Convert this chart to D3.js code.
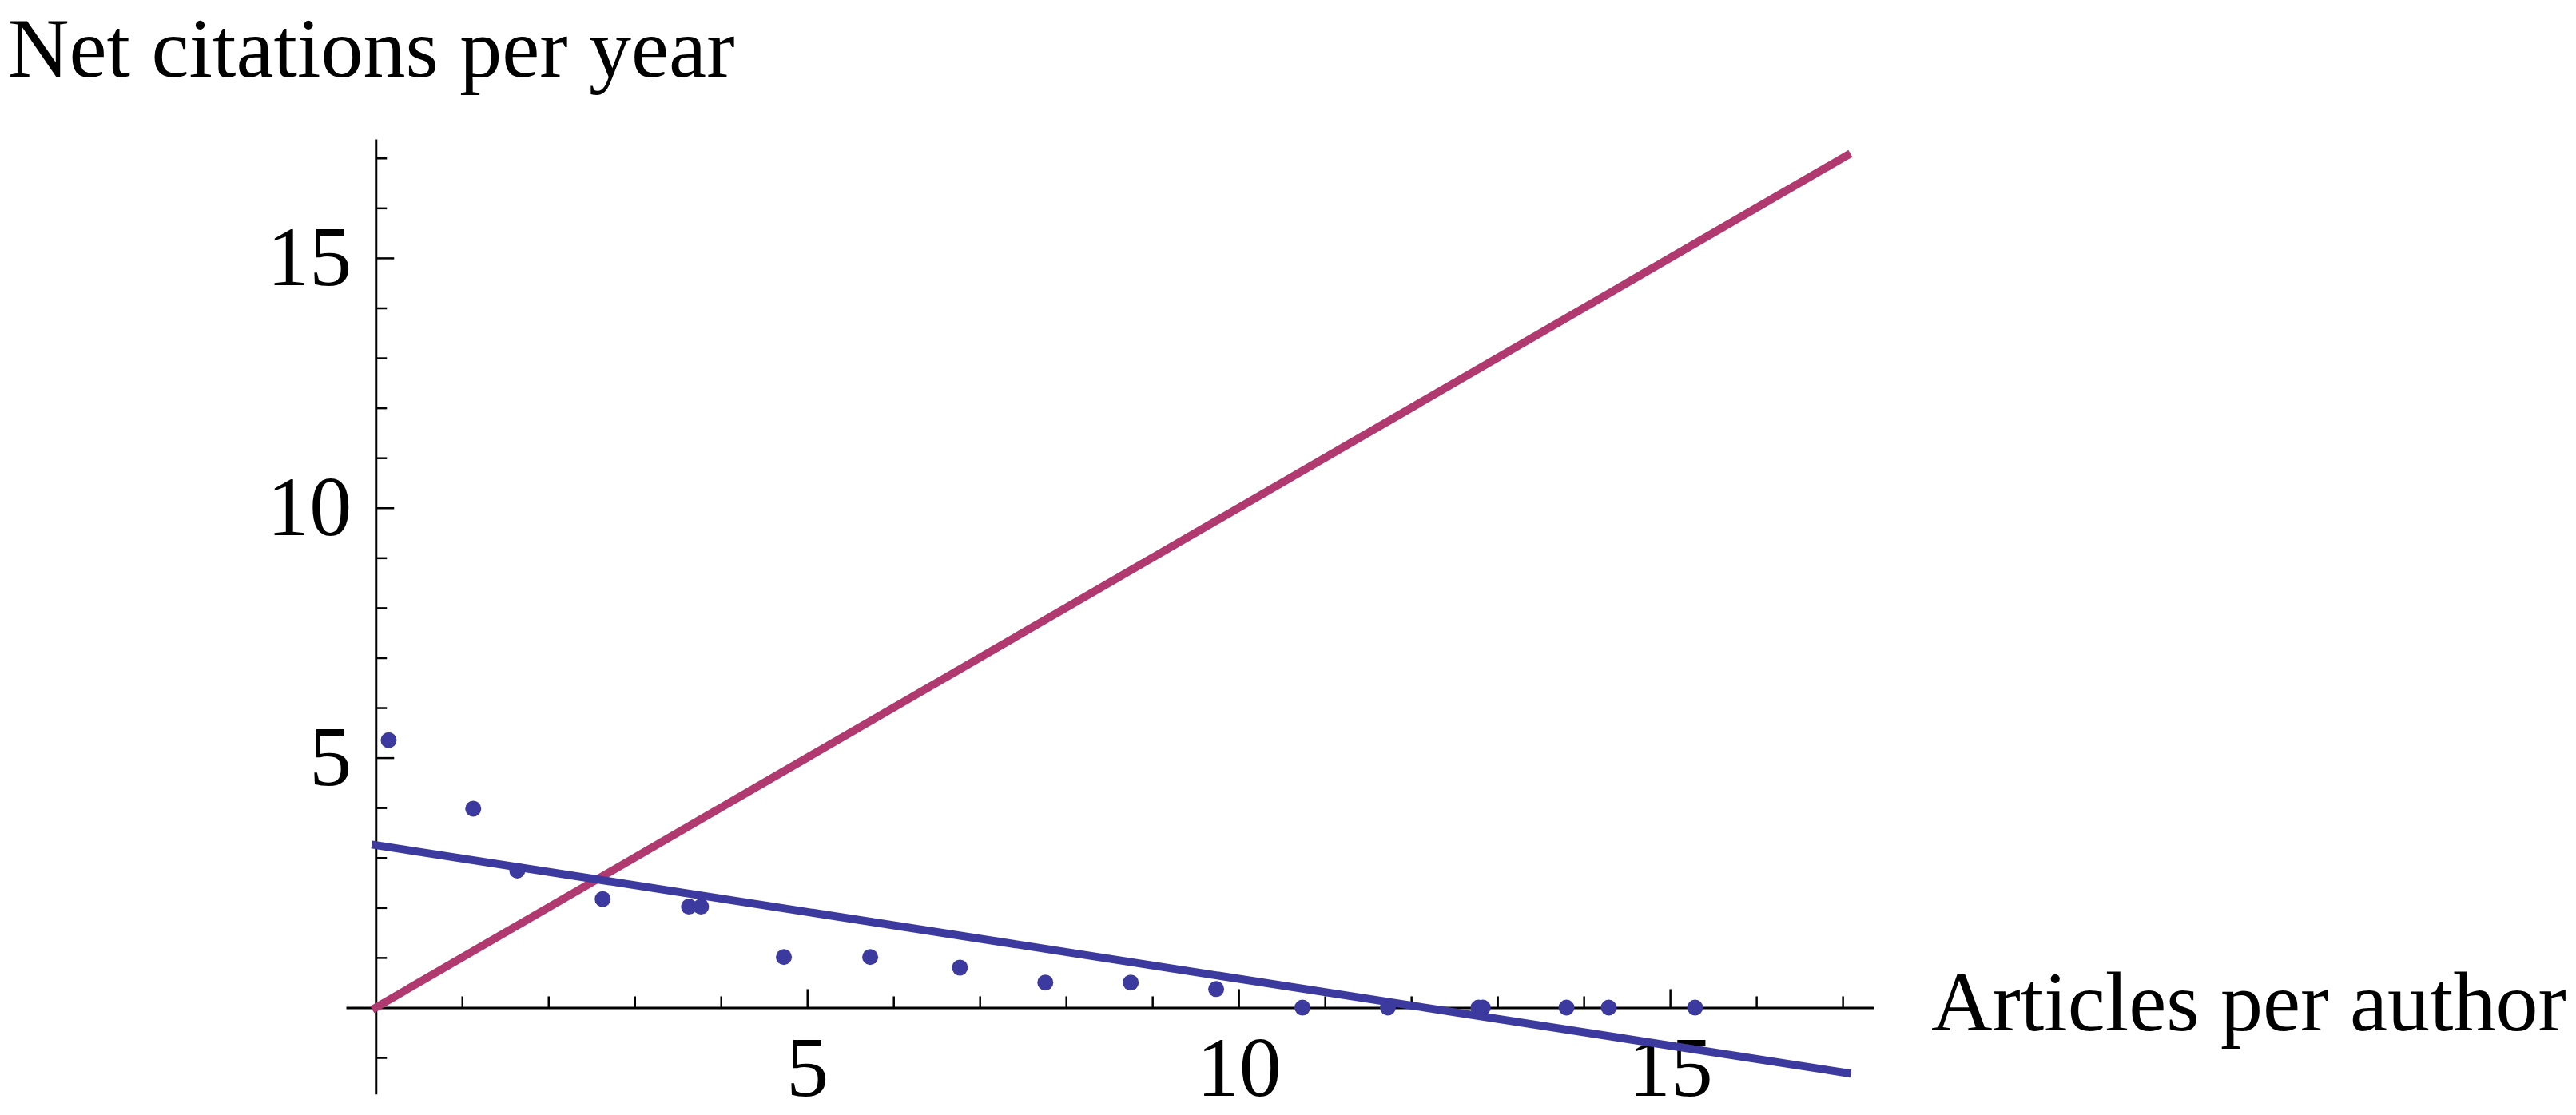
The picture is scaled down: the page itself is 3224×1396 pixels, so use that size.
<!DOCTYPE html>
<html>
<head>
<meta charset="utf-8">
<script src="https://cdn.jsdelivr.net/npm/d3@7"></script>
<style>
  body { margin: 0; background: #fff; }
  svg { display: block; }
  text { font-family: "Liberation Serif", "Times New Roman", serif; fill: #000; }
</style>
</head>
<body>
<div id="chart"></div>
<script>
const width = 3224,
  height = 1396,
  fontSize = 106;

// scatter points
const articlesPerAuthor = [0.15, 1.13, 1.64, 2.63, 3.63, 3.77, 4.73, 5.73, 6.77, 7.76,
  8.75, 9.74, 10.74, 11.73, 12.78, 12.83, 13.8, 14.29, 15.29];
const netCitations = [5.35, 3.98, 2.74, 2.17, 2.02, 2.02, 1.01, 1.01, 0.8, 0.5,
  0.5, 0.37, 0, 0, 0, 0, 0, 0, 0];

// fitted line and y = x line (end points)
const fitX = [0, 17.05];
const fitY = [3.25, -1.31];
const identityX = [0, 17.05];
const identityY = [0, 17.05];

// axis ticks
const majorTicks = [5, 10, 15];
const xMinorTicks = d3.range(1, 18).filter(d => d % 5 !== 0);
const yMinorTicks = d3.range(-1, 18).filter(d => d !== 0 && d % 5 !== 0);

const xLabel = "Articles per author";
const yLabel = "Net citations per year";

const xScale = d3.scaleLinear().domain([-0.345, 17.36]).range([433, 2345]);
const yScale = d3.scaleLinear().domain([-1.73, 17.38]).range([1369.7, 174]);

const svg = d3.select("#chart")
  .append("svg")
  .attr("width", width)
  .attr("height", height);

svg.append("rect").attr("width", width).attr("height", height).attr("fill", "#fff");

// x axis
const xAxisG = svg.append("g")
  .attr("transform", `translate(0,${yScale(0)})`);

xAxisG.append("g")
  .call(d3.axisBottom(xScale).tickValues(xMinorTicks).tickSize(-14).tickSizeOuter(0).tickFormat(""))
  .call(g => g.select(".domain").remove());

// labels sit low, just kept inside the bottom edge
xAxisG.append("g")
  .call(d3.axisBottom(xScale).tickValues(majorTicks).tickSize(-23).tickSizeOuter(0))
  .call(g => g.selectAll("text")
    .attr("y", 111)
    .attr("dy", 0)
    .attr("font-size", fontSize)
    .attr("font-family", null));

xAxisG.selectAll(".domain, line").attr("stroke", "#000").attr("stroke-width", 3);
xAxisG.selectAll(".tick line").attr("stroke-width", 2.5);

// y axis
const yAxisG = svg.append("g")
  .attr("transform", `translate(${xScale(0)},0)`);

yAxisG.append("g")
  .call(d3.axisLeft(yScale).tickValues(yMinorTicks).tickSize(-14).tickSizeOuter(0).tickFormat(""))
  .call(g => g.select(".domain").remove());

yAxisG.append("g")
  .call(d3.axisLeft(yScale).tickValues(majorTicks).tickSize(-23).tickSizeOuter(0).tickPadding(30))
  .call(g => g.selectAll("text")
    .attr("font-size", fontSize)
    .attr("font-family", null));

yAxisG.selectAll(".domain, line").attr("stroke", "#000").attr("stroke-width", 3);
yAxisG.selectAll(".tick line").attr("stroke-width", 2.5);

// axis labels
svg.append("text")
  .attr("x", 10)
  .attr("y", 96)
  .attr("font-size", fontSize)
  .text(yLabel);

svg.append("text")
  .attr("x", 2417)
  .attr("y", 1290)
  .attr("font-size", fontSize)
  .text(xLabel);

// lines
const line = d3.line()
  .x(d => xScale(d[0]))
  .y(d => yScale(d[1]));

svg.append("path")
  .datum(d3.zip(identityX, identityY))
  .attr("fill", "none")
  .attr("stroke", "#b03a70")
  .attr("stroke-width", 10)
  .attr("stroke-linecap", "square")
  .attr("d", line);

svg.append("path")
  .datum(d3.zip(fitX, fitY))
  .attr("fill", "none")
  .attr("stroke", "#3c3a9e")
  .attr("stroke-width", 10)
  .attr("stroke-linecap", "square")
  .attr("d", line);

// points
svg.selectAll("circle.dot")
  .data(d3.zip(articlesPerAuthor, netCitations))
  .join("circle")
  .attr("class", "dot")
  .attr("cx", d => xScale(d[0]))
  .attr("cy", d => yScale(d[1]))
  .attr("r", 10)
  .attr("fill", "#3c3a9e");
</script>
</body>
</html>
